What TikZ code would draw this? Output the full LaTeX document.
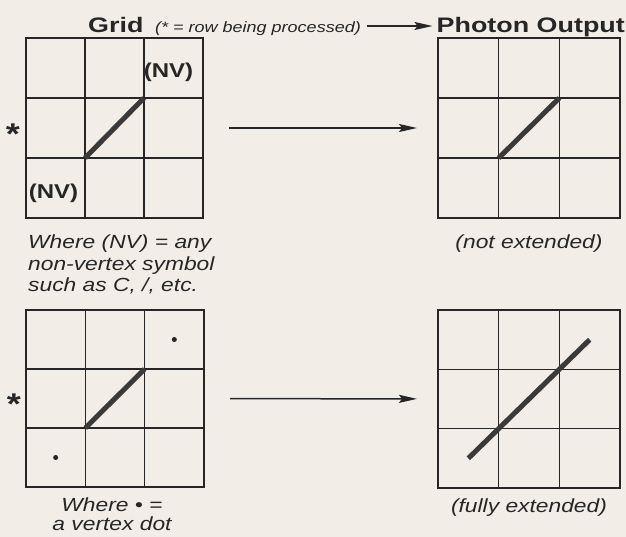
\documentclass[tikz,border=0pt]{standalone}
\usepackage{fontspec}
\setmainfont[FakeStretch=1.2]{Liberation Sans}
\newfontfamily\widefont[FakeStretch=1.28]{Liberation Sans}
\usetikzlibrary{arrows.meta,positioning,calc}
\definecolor{ink}{HTML}{262626}
\definecolor{paper}{HTML}{F2EEE7}
\definecolor{penline}{HTML}{3A3A3A}

\begin{document}
\begin{tikzpicture}[
  x=1pt, y=-1pt,
  every node/.style={text=ink},
  title/.style={font={\widefont\bfseries\fontsize{21}{25}\selectfont}, inner sep=0pt},
  subnote/.style={font={\itshape\fontsize{15}{18}\selectfont}, inner sep=0pt},
  capt/.style={font={\itshape\fontsize{19}{21.5}\selectfont}, inner sep=0pt},
  nvlabel/.style={font={\bfseries\fontsize{20}{24}\selectfont}, inner sep=0pt},
  rowmark/.style={font={\bfseries\fontsize{30}{34}\selectfont}, inner sep=0pt, anchor=base},
  gridbox/.style={draw=ink, line width=1.5pt, inner sep=0pt, outer sep=0pt},
  cellline/.style={draw=ink, line width=1.4pt},
  linkstroke/.style={draw=penline, line width=5pt},
  vdot/.style={fill=ink, circle, inner sep=0pt, minimum size=5pt},
  arr/.style={-{Stealth[length=18pt,width=8pt,inset=3pt]}, draw=ink, line width=1.5pt}
]
\fill[paper] (0,0) rectangle (626,537);
\useasboundingbox (0,0) rectangle (626,537);

% heading
\node[title, anchor=base west] (ttlgrid) at (88,33) {Grid};
\node[subnote, anchor=base west] (ttlnote) at (155,33) {(* = row being processed)};
\node[title, anchor=base east] (ttlout) at (625,33) {Photon Output};
\draw[arr] ([xshift=6pt,yshift=7pt]ttlnote.base east) -- ([xshift=-4pt,yshift=7pt]ttlout.base west);

% the four 3x3 grids
\foreach \gn/\gx/\gy/\gw/\gh in {tl/26/38/177/180, tr/438/38/182/180, bl/26/310/178/177, br/438/310/182/178} {
  \node[gridbox, minimum width=\gw pt, minimum height=\gh pt] (grid-\gn) at (\gx+\gw/2, \gy+\gh/2) {};
  \foreach \i in {1,2} {
    \draw[cellline] (\gx+\i*\gw/3, \gy) -- ++(0,\gh);
    \draw[cellline] (\gx, \gy+\i*\gh/3) -- ++(\gw,0);
  }
}

% row markers
\node[rowmark] (rowA) at (13,145) {*};
\node[rowmark] (rowB) at (14,414) {*};

% first case
\node[nvlabel] (nvA) at (168.5,72) {(NV)};
\node[nvlabel] (nvB) at (53.5,193) {(NV)};
\draw[linkstroke] ($(grid-tl.south west)!1/3!(grid-tl.north east)$) -- ($(grid-tl.south west)!2/3!(grid-tl.north east)$);
\draw[linkstroke] ($(grid-tr.south west)!1/3!(grid-tr.north east)$) -- ($(grid-tr.south west)!2/3!(grid-tr.north east)$);
\draw[arr, shorten <=26pt, shorten >=21pt] (grid-tl) -- (grid-tr);
\node[capt, align=left, anchor=north west] (captA) at (28,235) {Where (NV) = any\\non-vertex symbol\\such as C, /, etc.};
\node[capt, anchor=base] (captB) at (529,249) {(not extended)};

% second case
\node[vdot] (dotA) at ($(grid-bl.south west)!5/6!(grid-bl.north east)$) {};
\node[vdot] (dotB) at ($(grid-bl.south west)!1/6!(grid-bl.north east)$) {};
\draw[linkstroke] ($(grid-bl.south west)!1/3!(grid-bl.north east)$) -- ($(grid-bl.south west)!2/3!(grid-bl.north east)$);
\draw[linkstroke] ($(grid-br.south west)!1/6!(grid-br.north east)$) -- ($(grid-br.south west)!5/6!(grid-br.north east)$);
\draw[arr, shorten <=26pt, shorten >=21pt] (grid-bl) -- (grid-br);
\node[capt, align=center, anchor=north, font={\itshape\fontsize{19}{19}\selectfont}] (captC) at (112,498) {Where \textbullet\ =\\a vertex dot};
\node[capt, anchor=base] (captD) at (529,512) {(fully extended)};
\end{tikzpicture}
\end{document}
